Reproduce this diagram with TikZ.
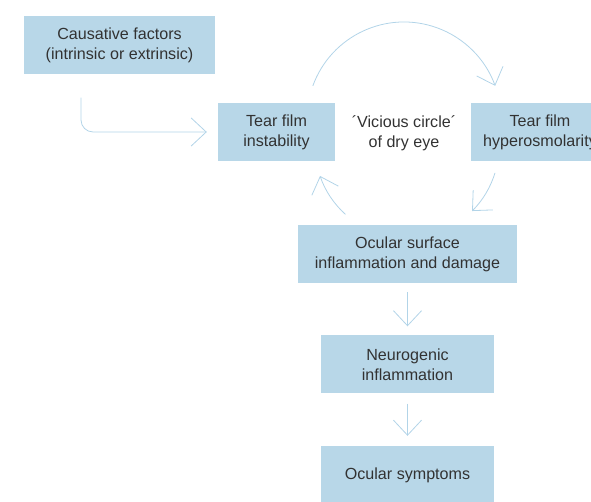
\documentclass[tikz,border=0pt]{standalone}
\usepackage{fontspec}
\setmainfont{Liberation Sans}
\usetikzlibrary{calc,arrows.meta}
\definecolor{boxblue}{RGB}{184,215,232}
\definecolor{flowblue}{RGB}{178,212,232}
\definecolor{inkgray}{RGB}{50,50,50}
\tikzset{
	box/.style={fill=boxblue, minimum height=58pt, inner sep=0pt, align=center, text=inkgray, font=\fontsize{16.1}{20}\selectfont},
	flow/.style={draw=flowblue, line width=0.8pt, -{Straight Barb[length=15pt,width=28pt]}}
}

\begin{document}
\begin{tikzpicture}[x=1pt,y=1pt]
		%%%%% START %%%%%
		\clip (0,0) rectangle (591,502);
		
		\node[box, minimum width=191pt] (cause) at (119.5,456.5) {Causative factors\\(intrinsic or extrinsic)};
		\node[box, minimum width=117pt] (instab) at (276.5,370) {Tear film\\instability};
		\node[box, minimum width=138pt] (hyper) at (540,370) {Tear film\\hyperosmolarity};
		\node[text=inkgray, align=center, font=\fontsize{16.1}{20}\selectfont] (vicious) at (404,369) {´Vicious circle´\\of dry eye};
		
		\node[box, minimum width=219pt] (surface) at (407.5,248) {Ocular surface\\inflammation and damage};
		\node[box, minimum width=173pt] (neuro) at (407.5,137.5) {Neurogenic\\inflammation};
		\node[box, minimum width=173pt] (sympt) at (407.5,27) {Ocular symptoms};
		
		% into the circle
		\draw[flow, rounded corners=12pt] ([shift={(-38.5,-23)}]cause.south) |- ([xshift=-11]instab.west);
		
		% the circle
		\draw[flow] ($(vicious)+(0,14)+(160:97)$) arc[start angle=160, end angle=20, radius=97];
		\draw[flow] ($(vicious)+(3,-13)+(-17:92)$) arc[start angle=-17, end angle=-45, radius=92];
		\draw[flow] ($(vicious)+(3,-13)+(228:92)$) arc[start angle=228, end angle=199, radius=92];
		
		% down the chain
		\draw[flow, shorten <=9pt, shorten >=9pt] (surface.south) -- (neuro.north);
		\draw[flow, shorten <=10pt, shorten >=10pt] (neuro.south) -- (sympt.north);
		
		%%%%% END %%%%%
	\end{tikzpicture}
\end{document}
